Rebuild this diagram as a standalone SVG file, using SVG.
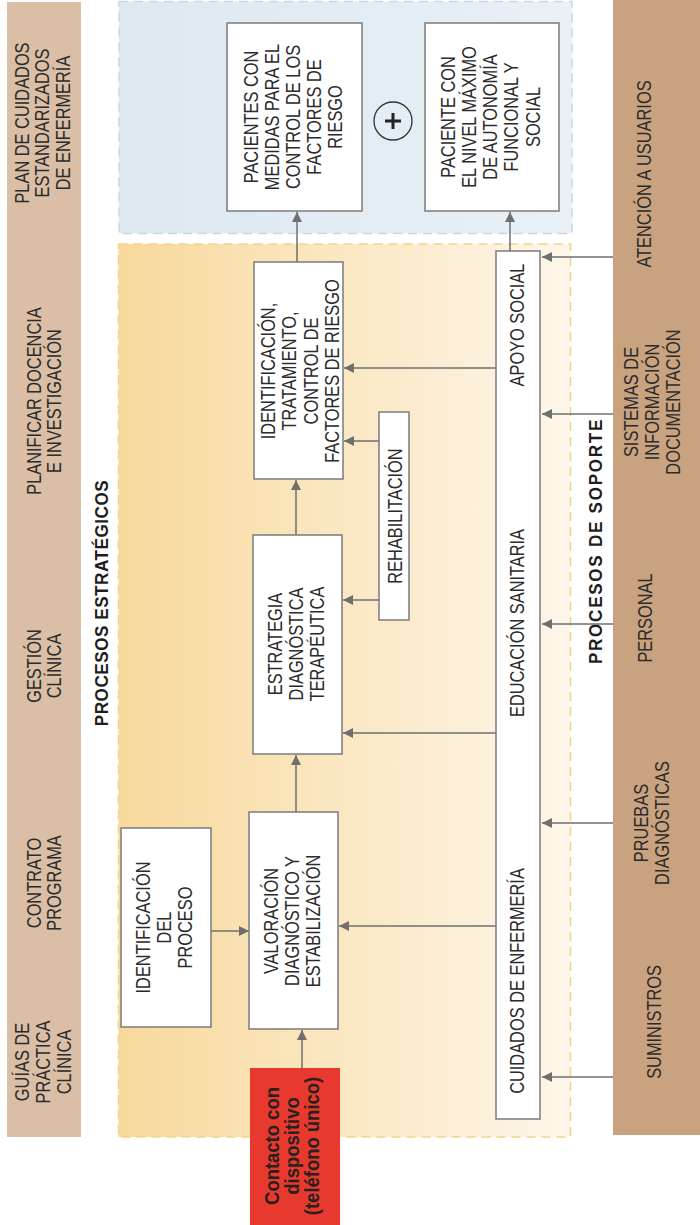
<svg xmlns="http://www.w3.org/2000/svg" width="700" height="1225" viewBox="0 0 700 1225">
<defs>
<linearGradient id="gOr" x1="0" x2="1" y1="0" y2="0"><stop offset="0" stop-color="#f8d99c"/><stop offset="1" stop-color="#fdf6ea"/></linearGradient>
<linearGradient id="gBl" x1="0" x2="1" y1="0" y2="0"><stop offset="0" stop-color="#dde8f1"/><stop offset="1" stop-color="#e9f0f6"/></linearGradient>
<marker id="ah" markerWidth="10" markerHeight="10" refX="10" refY="5" orient="auto" markerUnits="userSpaceOnUse"><path d="M0,0 L10,5 L0,10 z" fill="#6f6f6f"/></marker>
<style>
.t{font-family:"Liberation Sans",Arial,sans-serif;font-size:20px;fill:#2b2b2b;text-anchor:middle}
.b{font-weight:bold;fill:#1e1e1e}
.box{fill:#fff;stroke:#7b7b7b;stroke-width:1.5}
.c{stroke:#6f6f6f;stroke-width:1.5;fill:none;marker-end:url(#ah)}
</style>
</defs>
<rect width="700" height="1225" fill="#fff"/>

<g id="bands">
<rect x="7" y="2" width="74" height="1135" fill="#dabea5"/>
<rect x="613" y="0" width="87" height="1135" fill="#c9a380"/>
</g>

<g id="regions">
<rect x="119" y="1.5" width="453" height="232" fill="url(#gBl)" stroke="#c6d9e6" stroke-width="1.5" stroke-dasharray="9 6"/>
<rect x="118.5" y="244" width="452" height="893" fill="url(#gOr)" stroke="#f5d28a" stroke-width="1.5" stroke-dasharray="9 6"/>
</g>

<g id="left-labels">
<text class="t" transform="translate(0,123) rotate(-90) scale(0.82,1)"><tspan x="0" y="29">PLAN DE CUIDADOS</tspan><tspan x="0" y="49">ESTANDARIZADOS</tspan><tspan x="0" y="70">DE ENFERMERÍA</tspan></text>
<text class="t" transform="translate(0,401) rotate(-90) scale(0.82,1)"><tspan x="0" y="41">PLANIFICAR DOCENCIA</tspan><tspan x="0" y="61">E INVESTIGACIÓN</tspan></text>
<text class="t" transform="translate(0,666) rotate(-90) scale(0.82,1)"><tspan x="0" y="41">GESTIÓN</tspan><tspan x="0" y="61">CLÍNICA</tspan></text>
<text class="t" transform="translate(0,883) rotate(-90) scale(0.82,1)"><tspan x="0" y="41">CONTRATO</tspan><tspan x="0" y="61">PROGRAMA</tspan></text>
<text class="t" transform="translate(0,1062) rotate(-90) scale(0.82,1)"><tspan x="0" y="29">GUÍAS DE</tspan><tspan x="0" y="50">PRÁCTICA</tspan><tspan x="0" y="71">CLÍNICA</tspan></text>
</g>

<g id="right-labels">
<text class="t" transform="translate(0,174) rotate(-90) scale(0.82,1)"><tspan x="0" y="651">ATENCIÓN A USUARIOS</tspan></text>
<text class="t" transform="translate(0,402) rotate(-90) scale(0.82,1)"><tspan x="0" y="638">SISTEMAS DE</tspan><tspan x="0" y="659">INFORMACIÓN</tspan><tspan x="0" y="680">DOCUMENTACIÓN</tspan></text>
<text class="t" transform="translate(0,618) rotate(-90) scale(0.82,1)"><tspan x="0" y="652">PERSONAL</tspan></text>
<text class="t" transform="translate(0,823) rotate(-90) scale(0.82,1)"><tspan x="0" y="648">PRUEBAS</tspan><tspan x="0" y="669">DIAGNÓSTICAS</tspan></text>
<text class="t" transform="translate(0,1022) rotate(-90) scale(0.82,1)"><tspan x="0" y="661">SUMINISTROS</tspan></text>
</g>

<g id="section-titles">
<text class="t b" style="font-size:19px;letter-spacing:0.6px" transform="translate(0,603) rotate(-90) scale(0.9,1)"><tspan x="0" y="108">PROCESOS ESTRATÉGICOS</tspan></text>
<text class="t b" style="font-size:19px;letter-spacing:1.9px" transform="translate(0,541) rotate(-90) scale(0.9,1)"><tspan x="0" y="602">PROCESOS DE SOPORTE</tspan></text>
</g>

<g id="connectors">
<line class="c" x1="297" y1="262" x2="297" y2="212"/>
<line class="c" x1="510" y1="251" x2="510" y2="212"/>
<line class="c" x1="496" y1="368" x2="344" y2="368"/>
<line class="c" x1="379" y1="441" x2="344" y2="441"/>
<line class="c" x1="379" y1="600" x2="343" y2="600"/>
<line class="c" x1="296" y1="535" x2="296" y2="480"/>
<line class="c" x1="496" y1="733" x2="343" y2="733"/>
<line class="c" x1="296" y1="812" x2="296" y2="755"/>
<line class="c" x1="211" y1="931" x2="249" y2="931"/>
<line class="c" x1="496" y1="926" x2="339" y2="926"/>
<line class="c" x1="302" y1="1068" x2="302" y2="1030"/>
<line class="c" x1="613" y1="257" x2="542" y2="257"/>
<line class="c" x1="613" y1="414" x2="542" y2="414"/>
<line class="c" x1="613" y1="624" x2="542" y2="624"/>
<line class="c" x1="613" y1="823" x2="542" y2="823"/>
<line class="c" x1="613" y1="1077" x2="542" y2="1077"/>
</g>

<g id="n-pacientes-medidas">
<rect class="box" x="227" y="23" width="135" height="188"/>
<text class="t" transform="translate(0,117) rotate(-90) scale(0.82,1)"><tspan x="0" y="258">PACIENTES CON</tspan><tspan x="0" y="279">MEDIDAS PARA EL</tspan><tspan x="0" y="300">CONTROL DE LOS</tspan><tspan x="0" y="321">FACTORES DE</tspan><tspan x="0" y="342">RIESGO</tspan></text>
</g>

<g id="n-plus">
<circle cx="393" cy="121" r="19" fill="none" stroke="#333" stroke-width="1.3"/>
<path d="M385,121 H401 M393,113 V129" stroke="#222" stroke-width="3"/>
</g>

<g id="n-paciente-autonomia">
<rect class="box" x="425" y="23" width="134" height="188"/>
<text class="t" transform="translate(0,117) rotate(-90) scale(0.82,1)"><tspan x="0" y="455">PACIENTE CON</tspan><tspan x="0" y="476">EL NIVEL MÁXIMO</tspan><tspan x="0" y="497">DE AUTONOMÍA</tspan><tspan x="0" y="518">FUNCIONAL Y</tspan><tspan x="0" y="540">SOCIAL</tspan></text>
</g>

<g id="n-identificacion-tratamiento">
<rect class="box" x="254" y="262" width="89" height="217"/>
<text class="t" transform="translate(0,371) rotate(-90) scale(0.82,1)"><tspan x="0" y="275">IDENTIFICACIÓN,</tspan><tspan x="0" y="296">TRATAMIENTO,</tspan><tspan x="0" y="318">CONTROL DE</tspan><tspan x="0" y="339">FACTORES DE RIESGO</tspan></text>
</g>

<g id="n-rehabilitacion">
<rect class="box" x="379" y="412" width="30" height="208"/>
<text class="t" transform="translate(0,516) rotate(-90) scale(0.82,1)"><tspan x="0" y="402">REHABILITACIÓN</tspan></text>
</g>

<g id="n-estrategia">
<rect class="box" x="253" y="535" width="89" height="219"/>
<text class="t" transform="translate(0,644) rotate(-90) scale(0.82,1)"><tspan x="0" y="282">ESTRATEGIA</tspan><tspan x="0" y="303">DIAGNÓSTICA</tspan><tspan x="0" y="324">TERAPÉUTICA</tspan></text>
</g>

<g id="n-valoracion">
<rect class="box" x="249" y="812" width="89" height="217"/>
<text class="t" transform="translate(0,921) rotate(-90) scale(0.82,1)"><tspan x="0" y="278">VALORACIÓN</tspan><tspan x="0" y="299">DIAGNÓSTICO Y</tspan><tspan x="0" y="320">ESTABILIZACIÓN</tspan></text>
</g>

<g id="n-identificacion-proceso">
<rect class="box" x="121" y="828" width="90" height="199"/>
<text class="t" transform="translate(0,927.5) rotate(-90) scale(0.82,1)"><tspan x="0" y="150">IDENTIFICACIÓN</tspan><tspan x="0" y="171">DEL</tspan><tspan x="0" y="192">PROCESO</tspan></text>
</g>

<g id="n-soporte-asistencial">
<rect class="box" x="496" y="251" width="44" height="868"/>
<text class="t" transform="translate(0,325) rotate(-90) scale(0.82,1)"><tspan x="0" y="524">APOYO SOCIAL</tspan></text>
<text class="t" transform="translate(0,623) rotate(-90) scale(0.82,1)"><tspan x="0" y="524">EDUCACIÓN SANITARIA</tspan></text>
<text class="t" transform="translate(0,981) rotate(-90) scale(0.82,1)"><tspan x="0" y="524">CUIDADOS DE ENFERMERÍA</tspan></text>
</g>

<g id="n-contacto">
<rect x="250" y="1068" width="90" height="157" fill="#e8392f"/>
<text class="t b" style="font-size:20.5px;fill:#2a2020" transform="translate(0,1146) rotate(-90) scale(0.9,1)"><tspan x="0" y="279">Contacto con</tspan><tspan x="0" y="299">dispositivo</tspan><tspan x="0" y="319">(teléfono único)</tspan></text>
</g>
</svg>
